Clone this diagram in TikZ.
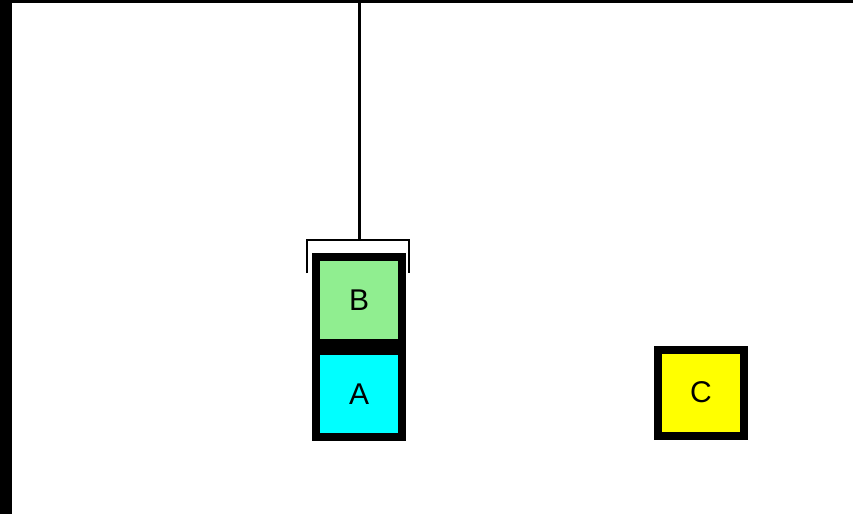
\documentclass[tikz,border=0pt]{standalone}
\usepackage{fontspec}
\setmainfont{Liberation Sans}
\usepackage{xcolor}
\usepackage{tikz}
\usetikzlibrary{positioning}
\definecolor{blockgreen}{RGB}{144,238,144}
\definecolor{blockcyan}{RGB}{0,255,255}
\definecolor{blockyellow}{RGB}{255,255,0}
\tikzset{
    block/.style={draw=black, line width=8pt, minimum size=86pt, inner sep=0pt, font=\fontsize{30}{35}\selectfont},
    rope/.style={draw=black, line width=3pt},
    gripper/.style={draw=black, line width=2.6pt}
}

\begin{document}
\begin{tikzpicture}[x=1pt, y=-1pt]
    \useasboundingbox (0,0) rectangle (853,514);
    % Frame edges
    \fill[black] (0,0) rectangle (11.5,514);
    \fill[black] (0,0) rectangle (853,3);
    % Blocks
    \node[block, fill=blockgreen] (B) at (359,300) {B};
    \node[block, fill=blockcyan, below=0pt of B] (A) {A};
    \node[block, fill=blockyellow] (C) at (701,392.5) {C};
    % Crane rope and gripper
    \coordinate (top) at (359,0);
    \coordinate (hook) at (359,240);
    \draw[rope] (top) -- (hook);
    \draw[gripper] ([xshift=-52pt, yshift=-33pt]hook) |- ([xshift=50pt]hook) -- ++(0,33);
\end{tikzpicture}
\end{document}
